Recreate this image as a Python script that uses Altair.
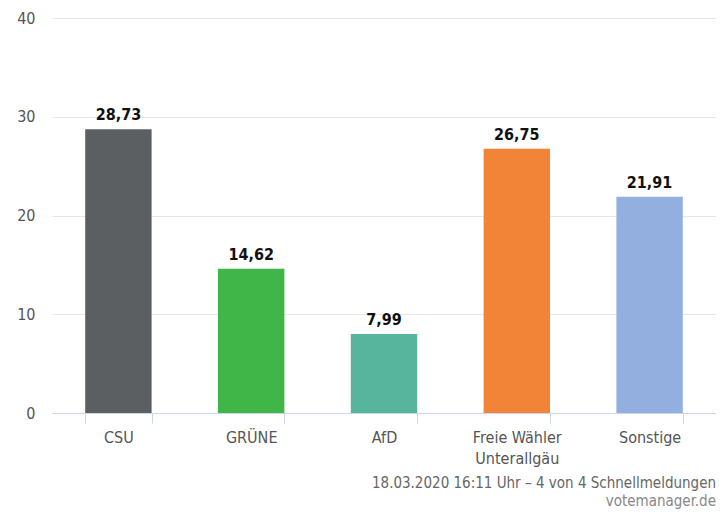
import altair as alt
import pandas as pd

parties = ["CSU", "GRÜNE", "AfD", "Freie Wähler Unterallgäu", "Sonstige"]
values = [28.73, 14.62, 7.99, 26.75, 21.91]
colors = ["#5b5f62", "#40b649", "#57b49d", "#f18436", "#93afe0"]

df = pd.DataFrame({"party": parties, "value": values, "color": colors})

FONT = "Liberation Sans Narrow, DejaVu Sans Condensed, DejaVu Sans, sans-serif"

x = alt.X(
    "party:N",
    sort=parties,
    title=None,
    scale=alt.Scale(paddingInner=0.5, paddingOuter=0.25),
    axis=alt.Axis(
        labelExpr="datum.label == 'Freie Wähler Unterallgäu' ? ['Freie Wähler', 'Unterallgäu'] : datum.label",
        labelAngle=0,
        labelFont=FONT,
        labelFontSize=16,
        labelColor="#555555",
        labelPadding=6,
        labelLineHeight=21,
        domainColor="#ccd6eb",
        tickColor="#ccd6eb",
        tickSize=10,
        tickBand="extent",
        grid=False,
    ),
)

y = alt.Y(
    "value:Q",
    title=None,
    scale=alt.Scale(domain=[0, 40]),
    axis=alt.Axis(
        values=[0, 10, 20, 30, 40],
        labelFont=FONT,
        labelFontSize=16,
        labelColor="#555555",
        labelPadding=17,
        tickSize=0,
        domain=False,
        gridColor="#e6e6e6",
        minExtent=44,
        maxExtent=44,
    ),
)

bars = alt.Chart(df).mark_bar().encode(
    x=x, y=y, color=alt.Color("color:N", scale=None, legend=None)
)

labels = alt.Chart(df).transform_calculate(
    lbl="replace(format(datum.value, '.2f'), '.', ',')"
).mark_text(
    baseline="bottom", dy=-6, font=FONT, fontSize=16, fontWeight="bold", color="#111111"
).encode(x=alt.X("party:N", sort=parties), y="value:Q", text="lbl:N")

chart = (bars + labels).properties(
    width=664,
    height=395,
    autosize=alt.AutoSizeParams(type="none"),
    padding={"left": 44, "top": 10, "right": 0, "bottom": 99},
    title=alt.TitleParams(
        text="18.03.2020 16:11 Uhr – 4 von 4 Schnellmeldungen",
        subtitle="votemanager.de",
        orient="bottom",
        anchor="end",
        font=FONT,
        fontSize=15,
        fontWeight="normal",
        color="#666666",
        subtitleFont=FONT,
        subtitleFontSize=15,
        subtitleColor="#888888",
        subtitlePadding=3,
        offset=10,
    ),
).configure_view(stroke=None)

chart.save("out.html", embed_options={"renderer": "svg", "actions": False})
